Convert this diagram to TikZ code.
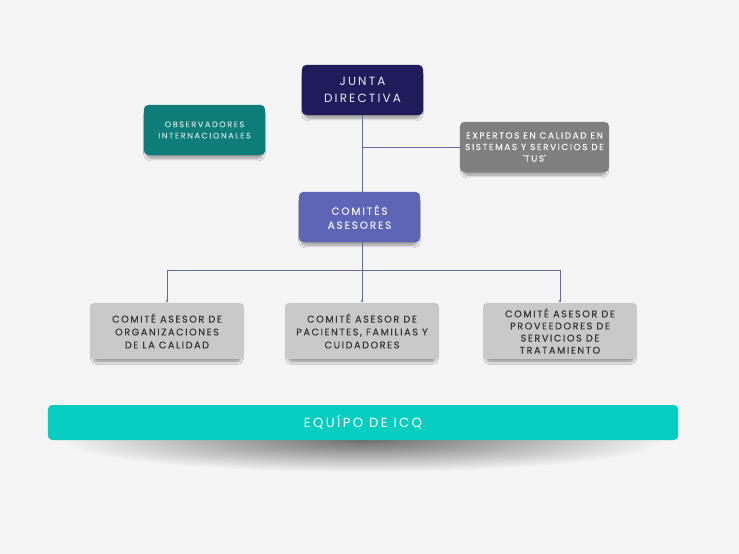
\documentclass[tikz,border=0pt]{standalone}
\usepackage{fontspec}
\setmainfont{Poppins}
\usepackage{tikz}
\usetikzlibrary{arrows.meta, shadows.blur, fadings}

\definecolor{fondo}{HTML}{F5F5F5}
\definecolor{navy}{HTML}{1F1C5C}
\definecolor{petrol}{HTML}{0E7C78}
\definecolor{gris}{HTML}{7F7F7F}
\definecolor{lila}{HTML}{5E64B6}
\definecolor{perla}{HTML}{C9C9C9}
\definecolor{turq}{HTML}{05CDC0}
\definecolor{enlace}{HTML}{646A9E}

\tikzfading[name=sombra, inner color=transparent!20, outer color=transparent!100]

\tikzset{
  caja/.style={rounded corners=3pt, align=center, inner sep=1pt,
    blur shadow={shadow xshift=0pt, shadow yshift=-3pt, shadow scale=0.96,
      shadow blur steps=10, shadow blur radius=2pt, shadow opacity=40}},
  enlace/.style={draw=enlace, line width=0.5pt},
  flecha/.style={enlace, -{Stealth[length=2pt, width=2pt]}},
}

\begin{document}
\begin{tikzpicture}[x=0.025cm, y=-0.025cm]
\fill[fondo] (0,0) rectangle (739,554);

% parte de arriba
\node[caja, fill=navy, text=white!85!lila, minimum width=3.025cm, minimum height=1.25cm,
  font=\fontsize{8.5}{12}\selectfont\addfontfeatures{LetterSpace=18}] (junta) at (362.5,90) {JUNTA\\DIRECTIVA};
\node[caja, fill=petrol, text=white!75!petrol, minimum width=3.025cm, minimum height=1.25cm,
  font=\fontsize{5.8}{8}\selectfont\addfontfeatures{LetterSpace=19,FakeBold=0.3}] (observ) at (204.5,130) {OBSERVADORES\\INTERNACIONALES};
\node[caja, fill=gris, text=white!92!gris, minimum width=3.725cm, minimum height=1.25cm,
  font=\fontsize{6.3}{8.2}\selectfont\addfontfeatures{LetterSpace=18,FakeBold=0.4}] (expertos) at (534.5,147) {EXPERTOS EN CALIDAD EN\\SISTEMAS Y SERVICIOS DE\\\textasciigrave TUS\textasciigrave};
\node[caja, fill=lila, text=white!90!lila, minimum width=3.025cm, minimum height=1.25cm,
  font=\fontsize{7.4}{10}\selectfont\addfontfeatures{LetterSpace=18,FakeBold=0.3}] (comites) at (359.5,217) {COMITÉS\\ASESORES};

% comites
\tikzset{comite/.style={caja, fill=perla, text=black!78, minimum width=3.85cm, minimum height=1.4cm,
  font=\fontsize{6.9}{9.2}\selectfont\addfontfeatures{LetterSpace=16,FakeBold=0.4}}}
\node[comite] (c1) at (167,331) {COMITÉ ASESOR DE\\ORGANIZACIONES\\DE LA CALIDAD};
\node[comite] (c2) at (362,331) {COMITÉ ASESOR DE\\PACIENTES, FAMILIAS Y\\CUIDADORES};
\node[comite, font=\fontsize{6.9}{8.6}\selectfont\addfontfeatures{LetterSpace=16,FakeBold=0.4}] (c3) at (560,331) {COMITÉ ASESOR DE\\PROVEEDORES DE\\SERVICIOS DE\\TRATAMIENTO};

% equipo
\fill[black!70, path fading=sombra] (363,440) ellipse [x radius=300, y radius=32];
\node[rounded corners=3pt, fill=turq, text=white, minimum width=15.75cm, minimum height=0.875cm,
  font=\fontsize{9.4}{10}\selectfont\addfontfeatures{LetterSpace=18}] (equipo) at (363,422.5) {EQUÍPO DE ICQ};

% lineas
\coordinate (reparto) at (362,270);
\draw[enlace] (junta.south -| reparto) -- (comites.north -| reparto);
\draw[enlace] (expertos.west) -- (expertos.west -| reparto);
\draw[enlace] (comites.south -| reparto) -- (reparto);
\draw[flecha] (reparto) -- (c2.north);
\draw[flecha] (reparto) -| (c1.north);
\draw[flecha] (reparto) -| (c3.north);
\end{tikzpicture}
\end{document}
